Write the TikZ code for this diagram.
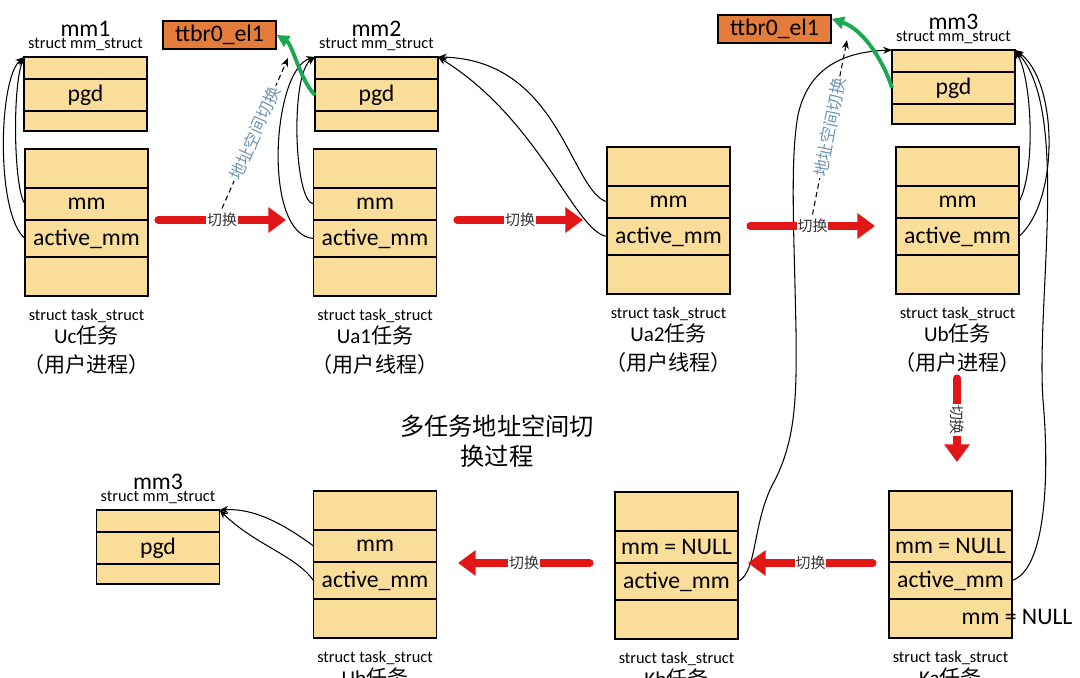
\documentclass[tikz,border=0pt]{standalone}
\usepackage{fontspec}
\setmainfont{Carlito}
\newfontfamily\cjk{Noto Sans CJK SC}
\usepackage{xcolor}
\usetikzlibrary{arrows.meta,positioning}
\definecolor{slotfill}{RGB}{250,221,153}
\definecolor{regfill}{RGB}{228,125,60}
\definecolor{swred}{RGB}{226,22,22}
\definecolor{mapgreen}{RGB}{26,168,82}
\definecolor{notegray}{RGB}{110,150,180}
\tikzset{
  slot/.style={draw, line width=0.9pt, fill=slotfill, minimum width=2.46cm, inner sep=0pt, outer sep=0pt, font=\fontsize{13.5}{15}\selectfont},
  slottext/.style={inner sep=0pt, font=\fontsize{13.5}{15}\selectfont},
  captext/.style={inner sep=0pt, font=\fontsize{9.3}{10}\selectfont},
  nametext/.style={inner sep=0pt, font=\fontsize{12}{14}\selectfont},
  titletext/.style={align=center, inner sep=0pt, font=\cjk\fontsize{13.8}{17}\selectfont},
  reg/.style={draw, line width=0.9pt, fill=regfill, minimum width=2.26cm, minimum height=0.56cm, inner sep=0pt, font=\fontsize{13.5}{15}\selectfont},
  ptr/.style={-{Stealth[length=5pt,width=4pt]}, line width=0.6pt},
  swarrow/.style={swred, line width=4pt, line cap=round, -{Triangle[length=10pt,width=14pt]}},
  swlabel/.style={fill=white, text=black!80, inner sep=0.6pt, font=\cjk\fontsize{8.5}{9}\selectfont},
  loadpgd/.style={mapgreen, line width=2.2pt, -{Triangle[length=7pt,width=7pt]}},
  asid/.style={dash pattern=on 3pt off 2pt, line width=0.6pt, -{Stealth[length=5pt,width=4pt]}},
  asidtext/.style={text=notegray, fill=white, inner sep=1pt, font=\cjk\fontsize{9.5}{10}\selectfont}
}
% mm_struct: name, top centre, title
\newcommand{\mmat}[3]{%
  \node[slot, minimum height=0.44cm, anchor=north] (#1) at #2 {};
  \node[slot, minimum height=0.64cm, below=0pt of #1] (#1-pgd) {pgd};
  \node[slot, minimum height=0.40cm, below=0pt of #1-pgd] (#1-end) {};
  \node[captext, above=0.12cm of #1] (#1-type) {struct mm\_struct};
  \node[slottext, above=0.5pt of #1-type] (#1-title) {#3};}
% task_struct: name, top centre, mm row, task name
\newcommand{\taskat}[4]{%
  \node[slot, minimum height=0.78cm, anchor=north] (#1) at #2 {};
  \node[slot, minimum height=0.64cm, below=0pt of #1] (#1-mm) {#3};
  \node[slot, minimum height=0.74cm, below=0pt of #1-mm] (#1-act) {active\_mm};
  \node[slot, minimum height=0.78cm, below=0pt of #1-act] (#1-end) {};
  \node[captext, below=0.26cm of #1-end] (#1-type) {struct task\_struct};
  \node[nametext, below=1pt of #1-type] (#1-name) {#4};}

\begin{document}
\begin{tikzpicture}[x=0.02cm, y=-0.02cm]
\path[use as bounding box, clip] (0,0) rectangle (1080,678);

\mmat{mm1}{(85.5,57)}{mm1}
\mmat{mm2}{(376.5,57)}{mm2}
\mmat{mm3}{(953.5,50)}{mm3}
\mmat{mm3b}{(158,510)}{mm3}

\taskat{Uc}{(86.5,149)}{mm}{Uc{\cjk 任务}}
\taskat{Ua1}{(375,149)}{mm}{Ua1{\cjk 任务}}
\taskat{Ua2}{(668.5,147)}{mm}{Ua2{\cjk 任务}}
\taskat{Ub}{(957.5,147)}{mm}{Ub{\cjk 任务}}
\taskat{Ub2}{(375,491)}{mm}{Ub{\cjk 任务}}
\taskat{Kb}{(676.5,492)}{mm = NULL}{Kb{\cjk 任务}}
\taskat{Ka}{(950.5,491)}{mm = NULL}{Ka{\cjk 任务}}

\node[nametext, below=5pt of Uc-name] (Uc-kind) {\cjk （用户进程）};
\node[nametext, below=5pt of Ua1-name] (Ua1-kind) {\cjk （用户线程）};
\node[nametext, below=5pt of Ua2-name] (Ua2-kind) {\cjk （用户线程）};
\node[nametext, below=5pt of Ub-name] (Ub-kind) {\cjk （用户进程）};
\node[slottext] (Ka-null) at (1017,617) {mm = NULL};

\node[reg] (ttbr1) at (219.5,35) {ttbr0\_el1};
\node[reg] (ttbr2) at (774.5,29) {ttbr0\_el1};
\node[titletext] (title) at (497,441) {多任务地址空间切\\换过程};

% mm / active_mm pointers
\draw[ptr] (Uc-mm.west) .. controls (14,190) and (12,90) .. (mm1.north west);
\draw[ptr] (Uc-act.west) .. controls (-4,215) and (-2,80) .. (mm1.north west);
\draw[ptr] (Ua1-mm.west) .. controls (294,202) and (290,75) .. (mm2.north west);
\draw[ptr] (Ua1-act.west) .. controls (262,235) and (272,70) .. (mm2.north west);
\draw[ptr] (Ua2-mm.west) .. controls (570,190) and (560,60) .. (mm2.north east);
\draw[ptr] (Ua2-act.west) .. controls (575,232) and (540,120) .. (mm2.north east);
\draw[ptr] (Ub-mm.east) .. controls (1036,170) and (1032,80) .. (mm3.north east);
\draw[ptr] (Ub-act.east) .. controls (1060,200) and (1058,80) .. (mm3.north east);
\draw[ptr] (Ka-act.east) .. controls (1045,570) and (1050,480) .. (1043,400)
  .. controls (1036,300) and (1070,110) .. (mm3.north east);
\draw[ptr] (Kb-act.east) .. controls (758,572) and (752,520) .. (775,480)
  .. controls (795,440) and (797,400) .. (796,330)
  .. controls (794,230) and (790,160) .. (798,115)
  .. controls (808,70) and (840,52) .. (mm3.north west);
\draw[ptr] (Ub2-mm.west) .. controls (285,525) and (255,508) .. (mm3b.north east);
\draw[ptr] (Ub2-act.west) .. controls (295,555) and (255,545) .. (mm3b.north east);

% pgd -> ttbr0_el1
\draw[loadpgd] (mm2-pgd.west) .. controls (300,80) and (293,45) .. (ttbr1.east);
\draw[loadpgd] (mm3-pgd.west) .. controls (885,65) and (865,30) .. (ttbr2.10);

% switches
\coordinate (sw1a) at (158,220); \coordinate (sw1b) at (286,220);
\coordinate (sw2a) at (457,220); \coordinate (sw2b) at (583,220);
\coordinate (sw3a) at (750,226); \coordinate (sw3b) at (875,226);
\coordinate (sw4a) at (957,378); \coordinate (sw4b) at (957,462);
\coordinate (sw5a) at (873,563); \coordinate (sw5b) at (748,563);
\coordinate (sw6a) at (590,563); \coordinate (sw6b) at (458,563);
\draw[swarrow] (sw1a) -- node[swlabel] (sw1) {切换} (sw1b);
\draw[swarrow] (sw2a) -- node[swlabel] (sw2) {切换} (sw2b);
\draw[swarrow] (sw3a) -- node[swlabel] (sw3) {切换} (sw3b);
\draw[swarrow] (sw4a) -- node[swlabel, rotate=-90] (sw4) {切换} (sw4b);
\draw[swarrow] (sw5a) -- node[swlabel] (sw5) {切换} (sw5b);
\draw[swarrow] (sw6a) -- node[swlabel] (sw6) {切换} (sw6b);

% address space switch
\coordinate (as1) at (288,58);
\coordinate (as2) at (847,40);
\draw[asid] (sw1.north) -- node[asidtext, sloped] {地址空间切换} (as1);
\draw[asid] (sw3.north) -- node[asidtext, sloped] {地址空间切换} (as2);
\end{tikzpicture}
\end{document}
